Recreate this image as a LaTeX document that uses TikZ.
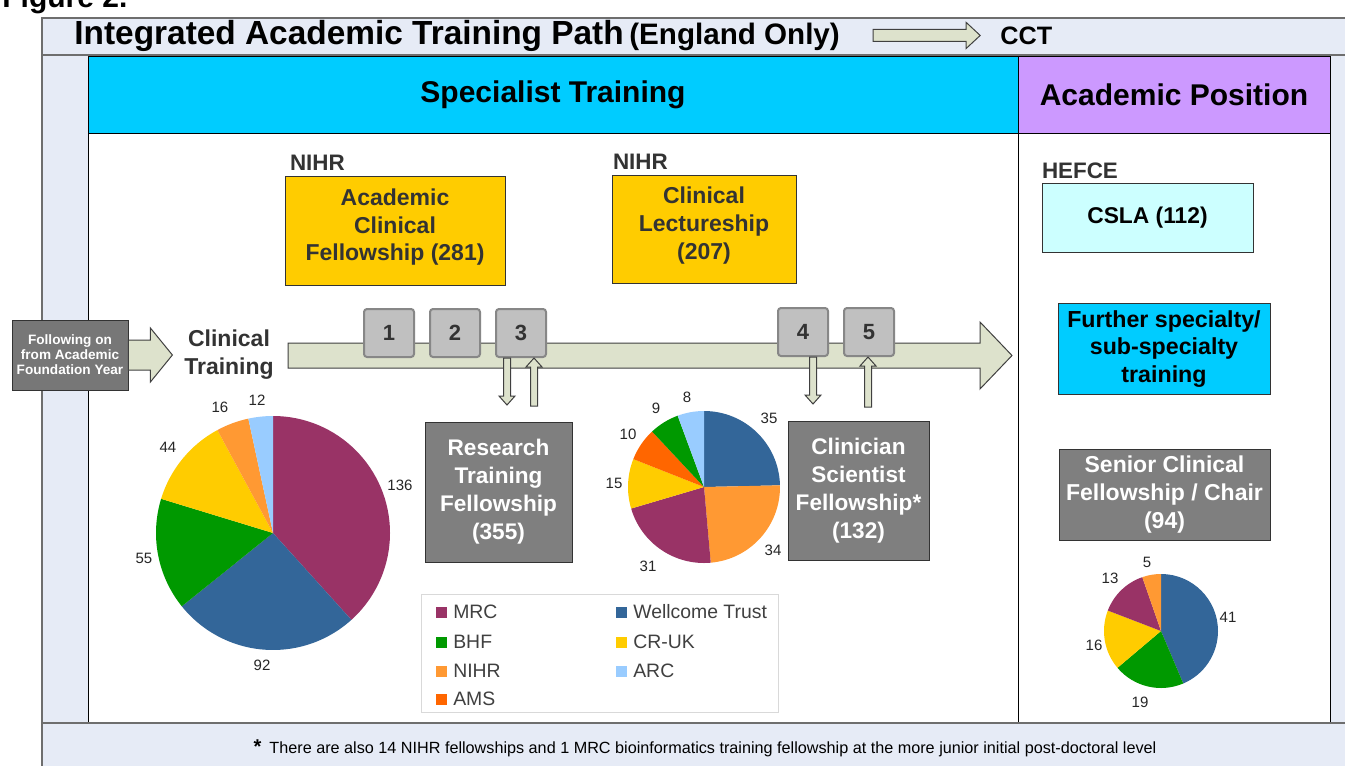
\documentclass[tikz,border=0pt]{standalone}
\usepackage{fontspec}
\setmainfont{Liberation Sans}
\usepackage{xcolor}
\usetikzlibrary{positioning,calc}

\definecolor{framebg}{RGB}{230,235,246}
\definecolor{frameline}{RGB}{110,110,110}
\definecolor{cyanhead}{RGB}{0,204,255}
\definecolor{purplehead}{RGB}{204,153,255}
\definecolor{yellowbox}{RGB}{255,204,0}
\definecolor{graybox}{RGB}{127,127,127}
\definecolor{followgray}{RGB}{119,119,119}
\definecolor{numfill}{RGB}{192,192,192}
\definecolor{numdraw}{RGB}{135,135,135}
\definecolor{arrowfill}{RGB}{221,226,204}
\definecolor{cslafill}{RGB}{204,255,255}
\definecolor{textdark}{RGB}{51,51,51}
\definecolor{colMRC}{RGB}{153,51,102}
\definecolor{colWT}{RGB}{51,102,153}
\definecolor{colBHF}{RGB}{0,153,0}
\definecolor{colCRUK}{RGB}{255,204,0}
\definecolor{colNIHR}{RGB}{255,153,51}
\definecolor{colARC}{RGB}{153,204,255}
\definecolor{colAMS}{RGB}{255,102,0}

\tikzset{
  header/.style={draw=black, font=\bfseries\fontsize{15}{18}\selectfont},
  ybox/.style={draw=black!80, fill=yellowbox, text=textdark, align=center,
    font=\bfseries\fontsize{11.5}{13.8}\selectfont},
  gbox/.style={draw=black!80, fill=graybox, text=white, align=center,
    font=\bfseries\fontsize{11.3}{14}\selectfont},
  numbox/.style={draw=numdraw, line width=1pt, fill=numfill, rounded corners=1.5pt,
    minimum width=25pt, minimum height=24pt, text=textdark,
    font=\bfseries\fontsize{11}{13}\selectfont},
  funder/.style={text=textdark, inner sep=0pt, anchor=south west,
    font=\bfseries\fontsize{11.2}{13}\selectfont},
  pielab/.style={inner sep=0pt, text=black!85, font=\fontsize{7.5}{9}\selectfont},
  legsq/.style={minimum size=5.5pt, inner sep=0pt},
  legtext/.style={inner sep=0pt, label distance=3pt, text=black!75,
    font=\fontsize{9.7}{11}\selectfont},
  blockarr/.style={draw=black!75, fill=arrowfill, line width=0.5pt},
  frameline/.style={draw=frameline, line width=0.8pt},
}

% hollow block arrow: tail, angle, length, shaft half width, head half width, head length
\newcommand{\blockarrow}[6]{%
  \draw[blockarr, shift={(#1)}, rotate=#2]
    (0,-#4) -- (#3-#6,-#4) -- (#3-#6,-#5) -- (#3,0) -- (#3-#6,#5) -- (#3-#6,#4) -- (0,#4) -- cycle;}

\begin{document}
\begin{tikzpicture}[x=0.5pt,y=0.5pt]
    \useasboundingbox (0,0) rectangle (1345,-766);

    % frame
    \fill[framebg] (42,-18) rectangle (1345,-766);
    \fill[white] (88,-133) rectangle (1330,-723);
    \node[header, fill=cyanhead, minimum width=465pt, minimum height=38.5pt] (spec) at (553,-94.5) {Specialist Training};
    \node[header, fill=purplehead, minimum width=156pt, minimum height=38.5pt] (acad) at (1174,-94.5) {Academic Position};
    \draw (88,-55) -- (88,-723);
    \draw (1018,-133) -- (1018,-723);
    \draw (1330,-55) -- (1330,-723);
    \draw[frameline] (1345,-18) -- (42,-18) -- (42,-766);
    \draw[frameline] (42,-55) -- (1345,-55);
    \draw[frameline] (42,-723) -- (1345,-723);

    \node[anchor=base west, inner sep=0pt, font=\bfseries\fontsize{15}{18}\selectfont] (fig) at (2,-7) {Figure 2.};

    % title
    \node[anchor=base west, inner sep=0pt, font=\bfseries] (title) at (74,-44)
        {{\fontsize{16.7}{20}\selectfont Integrated Academic Training Path} {\fontsize{14.8}{17}\selectfont(England Only)}};
    \node[anchor=base west, inner sep=0pt, font=\bfseries\fontsize{12.6}{15}\selectfont] (cct) at (1000,-44) {CCT};
    \blockarrow{$(title.east)+(33,0)$}{0}{107}{6}{13}{14}

    % clinical training path
    \node[draw=black!80, fill=followgray, text=white, align=center, minimum width=58pt, minimum height=35pt,
        inner sep=1pt, font=\bfseries\fontsize{6.8}{7.5}\selectfont] (follow) at (70,-355) {Following on\\from Academic\\Foundation Year};
    \node[align=center, text=textdark, font=\bfseries\fontsize{11.5}{14}\selectfont] (clin) at (229,-355) {Clinical\\Training};
    \blockarrow{follow.east}{0}{44}{15}{27}{22}
    \blockarrow{288,-355.5}{0}{724}{12.5}{33.5}{32}

    \node[numbox] (b1) at (389,-333) {1};
    \node[numbox, right=7pt of b1] (b2) {2};
    \node[numbox, right=7pt of b2] (b3) {3};
    \node[numbox] (b4) at (803,-332) {4};
    \node[numbox, right=7pt of b4] (b5) {5};

    \blockarrow{$(b3.south)+(-14,0)$}{-90}{47}{3.5}{8}{9}
    \blockarrow{$(b3.south)+(13,-48)$}{90}{48}{3.5}{8}{9}
    \blockarrow{$(b4.south)+(10,0)$}{-90}{47}{3.5}{8}{9}
    \blockarrow{$(b5.south)+(-1,-50)$}{90}{50}{3.5}{8}{9}

    % fellowships
    \node[ybox, minimum width=110pt, minimum height=54.5pt] (acf) at (395,-230.5) {Academic\\Clinical\\Fellowship (281)\\[-8pt]\mbox{}};
    \node[funder] (acfnihr) at ($(acf.north west)+(5,5)$) {NIHR};
    \node[ybox, minimum width=92pt, minimum height=54pt] (cl) at (704,-229) {Clinical\\Lectureship\\(207)\\[-8pt]\mbox{}};
    \node[funder] (clnihr) at ($(cl.north west)+(1,5)$) {NIHR};
    \node[gbox, minimum width=73.5pt, minimum height=70pt] (rtf) at (498.5,-492) {Research\\Training\\Fellowship\\(355)};
    \node[gbox, minimum width=70.5pt, minimum height=69.5pt] (csf) at (858.5,-490.5) {Clinician\\Scientist\\Fellowship*\\(132)};

    % academic position
    \node[draw=black!80, fill=cslafill, minimum width=105.5pt, minimum height=34.5pt,
        font=\bfseries\fontsize{11.4}{13}\selectfont] (csla) at (1147.5,-217.5) {CSLA (112)};
    \node[funder] (hefce) at ($(csla.north west)+(0,3)$) {HEFCE};
    \node[draw=black!80, fill=cyanhead, align=center, minimum width=106pt, minimum height=45.5pt,
        font=\bfseries\fontsize{11.6}{13.8}\selectfont] (further) at (1164,-349) {Further specialty/\\sub-specialty\\training};
    \node[gbox, minimum width=105.5pt, minimum height=42pt, font=\bfseries\fontsize{11.5}{14}\selectfont] (senior) at (1164.5,-495) {Senior Clinical\\Fellowship / Chair\\(94)};

    % pie charts
    \coordinate (pieRTF) at (273,-533);
    \coordinate (pieCSF) at (704,-487);
    \coordinate (pieSEN) at (1161,-631);
    \foreach \a/\b/\c in {90/-47.92/colMRC, -47.92/-141.21/colWT, -141.21/-196.99/colBHF,
        -196.99/-241.61/colCRUK, -241.61/-257.83/colNIHR, -257.83/-270/colARC}
        \fill[\c] (pieRTF) -- ++(\a:117) arc[start angle=\a, end angle=\b, radius=117] -- cycle;
    \foreach \a/\b/\c in {90/1.27/colWT, 1.27/-84.93/colNIHR, -84.93/-163.52/colMRC,
        -163.52/-201.55/colCRUK, -201.55/-226.90/colAMS, -226.90/-249.72/colBHF, -249.72/-270/colARC}
        \fill[\c] (pieCSF) -- ++(\a:76) arc[start angle=\a, end angle=\b, radius=76] -- cycle;
    \foreach \a/\b/\c in {90/-67.02/colWT, -67.02/-139.79/colBHF, -139.79/-201.06/colCRUK,
        -201.06/-250.85/colMRC, -250.85/-270/colNIHR}
        \fill[\c] (pieSEN) -- ++(\a:57) arc[start angle=\a, end angle=\b, radius=57] -- cycle;

    \foreach \v/\x/\y in {136/400/485, 92/262/665, 55/144/558, 44/168/447, 16/220/407, 12/257/400}
        \node[pielab] (rtf-\v) at (\x,-\y) {\v};
    \foreach \v/\x/\y in {35/769/418, 34/773/550, 31/648/566, 15/614/483, 10/628/434, 9/656/408, 8/687/397}
        \node[pielab] (csf-\v) at (\x,-\y) {\v};
    \foreach \v/\x/\y in {41/1228/617, 19/1140/702, 16/1094/645, 13/1110/578, 5/1147/562}
        \node[pielab] (sen-\v) at (\x,-\y) {\v};

    % legend
    \draw[black!15, fill=white] (421,-594) rectangle (778,-712);
    \foreach \lab/\col/\x/\y in {MRC/colMRC/441/612, BHF/colBHF/441/642, NIHR/colNIHR/441/671, AMS/colAMS/441/699,
        Wellcome Trust/colWT/621/612, CR-UK/colCRUK/621/642, ARC/colARC/621/671}
        \node[legsq, fill=\col, label={[legtext]right:\lab}] (leg-\col) at (\x,-\y) {};

    % footnote
    \node[inner sep=0pt, font=\fontsize{8.1}{10}\selectfont] (note) at (705,-748)
        {{\bfseries\fontsize{10}{10}\selectfont *}\enspace There are also 14 NIHR fellowships and 1 MRC bioinformatics training fellowship at the more junior initial post-doctoral level};
\end{tikzpicture}
\end{document}
